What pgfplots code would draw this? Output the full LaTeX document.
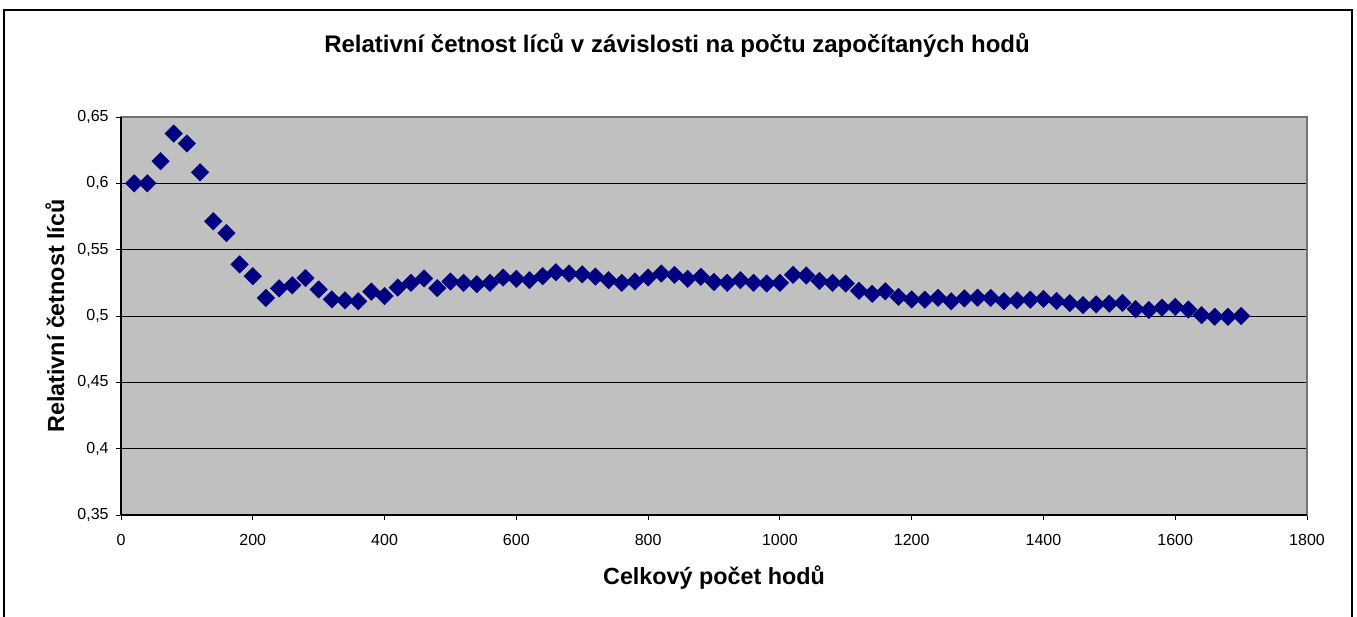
\documentclass[border=0pt]{standalone}
\usepackage{pgfplots}
\pgfplotsset{compat=1.18}
\usepackage{fontspec}
\setmainfont{Liberation Sans}
\definecolor{plotgray}{HTML}{C0C0C0}
\definecolor{navymark}{HTML}{000080}

\begin{document}
\begin{tikzpicture}[x=0.75pt,y=0.75pt]
\useasboundingbox (0,0) rectangle (1357,617);
% chart frame (bottom edge falls outside the picture)
\draw[black,line width=1.5] (4,0) -- (4,607) -- (1352,607) -- (1352,0);

\node[font=\fontsize{18}{20}\selectfont\bfseries] at (677,572) {Relativní četnost líců v závislosti na počtu započítaných hodů};

\begin{axis}[
    at={(90.75pt,76.5pt)}, anchor=south west,
    scale only axis,
    width=889.5pt, height=298.5pt,
    xmin=0, xmax=1800,
    ymin=0.35, ymax=0.65,
    xtick={0,200,...,1800},
    ytick={0.35,0.4,0.45,0.5,0.55,0.6,0.65},
    axis background/.style={fill=plotgray},
    axis line style={draw=gray!90!black, line width=1.2pt},
    ymajorgrids=true,
    grid style={black, line width=0.6pt},
    tick pos=left,
    tick align=outside,
    major tick length=3.75pt,
    tick style={black, line width=0.6pt},
    /pgf/number format/assume math mode=true,
    /pgf/number format/use comma,
    scaled ticks=false,
    ticklabel style={font=\fontsize{12}{14}\selectfont},
    xticklabel style={yshift=-7pt},
    yticklabel style={/pgf/number format/fixed, xshift=-2pt},
    xticklabel style={/pgf/number format/1000 sep={}},
    xlabel={Celkový počet hodů},
    ylabel={Relativní četnost líců},
    label style={font=\fontsize{17.5}{20}\selectfont\bfseries},
    xlabel style={at={(axis description cs:0.5,-0.156)}, anchor=center},
    ylabel style={at={(axis description cs:-0.0557,0.5)}, anchor=center},
    clip=false,
]
\draw[black, line width=1pt] (axis cs:0,0.35) -- (axis cs:0,0.65);
\draw[black, line width=1.5pt] (axis cs:0,0.35) -- (axis cs:1800,0.35);
\addplot[only marks, mark=square*, mark size=4.6pt,
    mark options={rotate=45, fill=navymark, draw=navymark}]
    coordinates {
    (20,0.600)(40,0.600)(60,0.6167)(80,0.6375)(100,0.630)(120,0.6083)
    (140,0.5714)(160,0.5625)(180,0.5389)(200,0.530)(220,0.5136)(240,0.5208)
    (260,0.5231)(280,0.5286)(300,0.520)(320,0.5125)(340,0.5118)(360,0.5111)
    (380,0.5184)(400,0.515)(420,0.5214)(440,0.525)(460,0.5283)(480,0.521)
    (500,0.526)(520,0.525)(540,0.524)(560,0.525)(580,0.529)(600,0.528)
    (620,0.527)(640,0.530)(660,0.533)(680,0.532)(700,0.5314)(720,0.5297)
    (740,0.527)(760,0.525)(780,0.526)(800,0.529)(820,0.532)(840,0.531)
    (860,0.528)(880,0.5295)(900,0.5256)(920,0.525)(940,0.527)(960,0.525)
    (980,0.5245)(1000,0.525)(1020,0.531)(1040,0.5305)(1060,0.5264)(1080,0.525)
    (1100,0.5245)(1120,0.519)(1140,0.5167)(1160,0.5186)(1180,0.5144)(1200,0.5125)
    (1220,0.5123)(1240,0.5137)(1260,0.5111)(1280,0.5133)(1300,0.5138)(1320,0.5136)
    (1340,0.5112)(1360,0.5118)(1380,0.5123)(1400,0.5129)(1420,0.5113)(1440,0.5097)
    (1460,0.5082)(1480,0.5088)(1500,0.5093)(1520,0.5099)(1540,0.5052)(1560,0.5045)
    (1580,0.5063)(1600,0.5069)(1620,0.5049)(1640,0.5006)(1660,0.4994)(1680,0.4994)
    (1700,0.5000)
    };
\end{axis}
\end{tikzpicture}
\end{document}
